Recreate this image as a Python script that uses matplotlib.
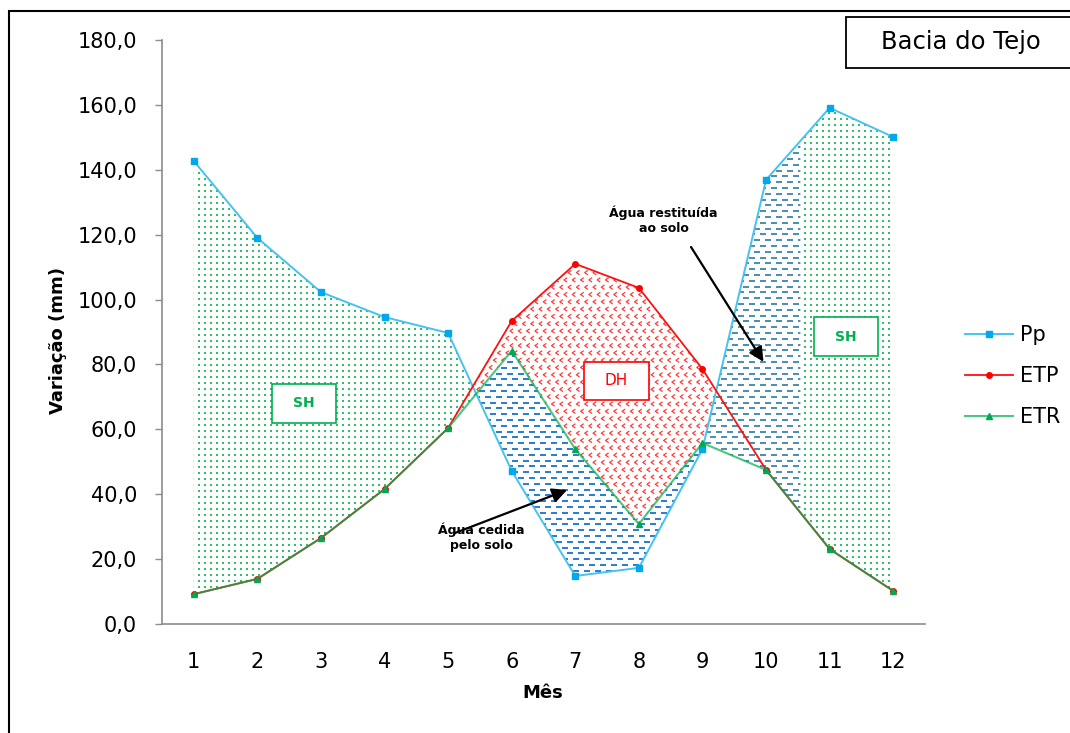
import numpy as np
import matplotlib
matplotlib.use("Agg")
import matplotlib.pyplot as plt
from matplotlib.patches import Polygon, Rectangle
from matplotlib.path import Path

# ---------------- data ----------------
months = [1, 2, 3, 4, 5, 6, 7, 8, 9, 10, 11, 12]
pp = [142.7, 119.0, 102.3, 94.6, 89.7, 47.2, 14.8, 17.3, 53.9, 136.9, 159.1, 150.1]
etp = [9.2, 13.9, 26.5, 41.6, 60.4, 93.4, 111.0, 103.6, 78.6, 47.5, 23.1, 10.2]
etr = [9.2, 13.9, 26.5, 41.6, 60.4, 84.2, 53.9, 30.8, 55.8, 47.5, 23.1, 10.2]
ytick_values = [0, 20, 40, 60, 80, 100, 120, 140, 160, 180]
ytick_labels = ["0,0", "20,0", "40,0", "60,0", "80,0", "100,0", "120,0", "140,0", "160,0", "180,0"]
series_names = ["Pp", "ETP", "ETR"]
title = "Bacia do Tejo"
split_x = 10.54   # boundary between "água restituída" and SH zones

plt.rcParams['font.family'] = ['DejaVu Sans']

W_PX, H_PX = 1070, 733
fig = plt.figure(figsize=(W_PX / 100, H_PX / 100), dpi=100)
ax_l, ax_r, ax_t, ax_b = 162, 925, 40, 624
ax = fig.add_axes([ax_l / W_PX, 1 - ax_b / H_PX, (ax_r - ax_l) / W_PX, (ax_b - ax_t) / H_PX])
AXW, AXH = ax_r - ax_l, ax_b - ax_t

x = np.array(months, float)
pp_a, etp_a, etr_a = np.array(pp), np.array(etp), np.array(etr)


def crossing(i0, a, b):
    d0 = a[i0] - b[i0]
    d1 = a[i0 + 1] - b[i0 + 1]
    return x[i0] + d0 / (d0 - d1)


xc1 = crossing(4, pp_a, etr_a)   # Pp / ETR between months 5 and 6
xc2 = crossing(8, pp_a, etr_a)   # Pp / ETR between months 9 and 10
xa = crossing(4, pp_a, etp_a)    # Pp / ETP between months 5 and 6
xp = crossing(8, pp_a, etp_a)    # Pp / ETP between months 9 and 10


def region_x(x0, x1, extra=()):
    inner = [v for v in list(x) + list(extra) if x0 < v < x1]
    return np.array(sorted(set([x0, x1] + inner)))


chevron = Path([(0.5, 0.7), (-0.5, 0.0), (0.5, -0.7)],
               [Path.MOVETO, Path.LINETO, Path.LINETO])


def pattern(xs, upper, lower, kind):
    verts = np.column_stack([np.r_[xs, xs[::-1]], np.r_[upper, lower[::-1]]])
    poly = Polygon(verts, closed=True, transform=ax.transData,
                   facecolor='none', edgecolor='none')
    ax.add_patch(poly)
    if kind == 'dots':
        dx, dy, stag = 6.0, 6.0, 0.0
        kw = dict(marker='s', s=0.9, c='#30c068', linewidths=0)
    elif kind == 'dash1':
        dx, dy, stag = 11.0, 5.8, 5.5
        kw = dict(marker='_', s=18, c='#2f7fd0', linewidths=1.4)
    elif kind == 'dash2':
        dx, dy, stag = 11.0, 5.8, 5.5
        kw = dict(marker='_', s=18, c='#4f8fb0', linewidths=1.4)
    else:
        dx, dy, stag = 8.3, 7.3, 4.15
        kw = dict(marker=chevron, s=10, facecolors='none', edgecolors='#ff3a3a', linewidths=0.9)
    gx = np.arange(1, AXW, dx)
    gy = np.arange(1, AXH, dy)
    X, Y = np.meshgrid(gx, gy)
    X[1::2, :] += stag
    sc = ax.scatter(X.ravel() / AXW, Y.ravel() / AXH, transform=ax.transAxes, zorder=1, **kw)
    sc.set_clip_path(poly)


def at(xs, arr):
    return np.interp(xs, x, arr)


# SH (left)
xs = region_x(1, xc1)
pattern(xs, at(xs, pp_a), at(xs, etr_a), 'dots')
# Água cedida pelo solo
xs = region_x(xc1, xc2)
pattern(xs, at(xs, etr_a), at(xs, pp_a), 'dash1')
# DH: between ETP and the higher of ETR / Pp
xs = region_x(xa, xp, extra=(xc1, xc2))
pattern(xs, at(xs, etp_a), np.maximum(at(xs, etr_a), at(xs, pp_a)), 'chev')
# Água restituída ao solo
xs = region_x(xc2, split_x)
pattern(xs, at(xs, pp_a), at(xs, etr_a), 'dash2')
# SH (right)
xs = region_x(split_x, 12)
pattern(xs, at(xs, pp_a), at(xs, etr_a), 'dots')

# lines
l_pp, = ax.plot(x, pp_a, color='#45c3f0', lw=1.4, marker='s', ms=5,
                mfc='#00a8ee', mec='#00a8ee', zorder=3, label=series_names[0])
l_etp, = ax.plot(x, etp_a, color='#ff1010', lw=1.3, marker='o', ms=4,
                 mfc='#ff0000', mec='#ff0000', zorder=3, label=series_names[1])
l_etr, = ax.plot(x, etr_a, color=(0.0, 0.69, 0.31, 0.7), lw=1.5, marker='^', ms=5,
                 mfc='#00a850', mec='#00a850', zorder=3.1, label=series_names[2])

# axes styling
ax.set_xlim(0.5, 12.5)
ax.set_ylim(0, 180)
ax.set_xticks(months)
ax.set_xticklabels([str(m) for m in months])
ax.set_yticks(ytick_values)
ax.set_yticklabels(ytick_labels)
for s in ['top', 'right']:
    ax.spines[s].set_visible(False)
for s in ['left', 'bottom']:
    ax.spines[s].set_color('#8c8c8c')
    ax.spines[s].set_linewidth(1.2)
ax.tick_params(axis='y', length=5, width=1, color='#8c8c8c', pad=13, labelsize=15)
ax.tick_params(axis='x', length=0, pad=20, labelsize=15)

ax.set_xlabel("Mês", fontsize=13, fontweight='bold')
ax.xaxis.set_label_coords(0.499, (ax_b - 693) / AXH)
ax.xaxis.label.set_va('center')
ax.set_ylabel("Variação (mm)", fontsize=13, fontweight='bold')
ax.yaxis.set_label_coords((58 - ax_l) / AXW, (ax_b - 340) / AXH)
ax.yaxis.label.set_va('center')


# boxes with labels
def label_box(cx, cy, wpx, hpx, text, color, weight, size):
    w = wpx / AXW * 12.0
    h = hpx / AXH * 180.0
    ax.add_patch(Rectangle((cx - w / 2, cy - h / 2), w, h, facecolor='white',
                           edgecolor=color, lw=1.2, zorder=4))
    ax.text(cx, cy, text, color=color, fontweight=weight, fontsize=size,
            ha='center', va='center', zorder=5)


label_box(2.73, 68.0, 64, 39, "SH", '#00b050', 'bold', 10)
label_box(11.25, 88.6, 64, 39, "SH", '#00b050', 'bold', 10)
label_box(7.65, 74.9, 65, 38, "DH", '#ff0000', 'normal', 11)

# annotations
arrow_kw = dict(arrowstyle='-|>', color='black', lw=1.6, mutation_scale=22, shrinkA=0, shrinkB=0)
ax.annotate("", xy=(6.87, 41.3), xytext=(5.10, 28.0), arrowprops=arrow_kw, zorder=6)
ax.text(5.52, 26.8, "Água cedida\npelo solo", fontsize=9, fontweight='bold',
        ha='center', va='center', linespacing=1.25, zorder=7)
ax.annotate("", xy=(9.96, 80.8), xytext=(8.82, 116.2), arrowprops=arrow_kw, zorder=6)
ax.text(8.39, 124.5, "Água restituída\nao solo", fontsize=9, fontweight='bold',
        ha='center', va='center', linespacing=1.25, zorder=7)

# legend
fig.legend(handles=[l_pp, l_etp, l_etr], loc='center left',
           bbox_to_anchor=((965 - 19) / W_PX, 1 - 376 / H_PX), frameon=False,
           fontsize=15, handlelength=2.3, handletextpad=0.35, labelspacing=1.0)

# title box and outer frame
fig.add_artist(Rectangle((846 / W_PX, 1 - 68 / H_PX), (1090 - 846) / W_PX, 51 / H_PX,
                         transform=fig.transFigure, facecolor='white', edgecolor='black', lw=1.3))
fig.text(961 / W_PX, 1 - 42 / H_PX, title, fontsize=17.5, ha='center', va='center')
fig.add_artist(Rectangle((9 / W_PX, -0.1), 1.2, 1.1 - 11 / H_PX,
                         transform=fig.transFigure, facecolor='none', edgecolor='black', lw=1.5))

fig.savefig("out.png", dpi=100)
